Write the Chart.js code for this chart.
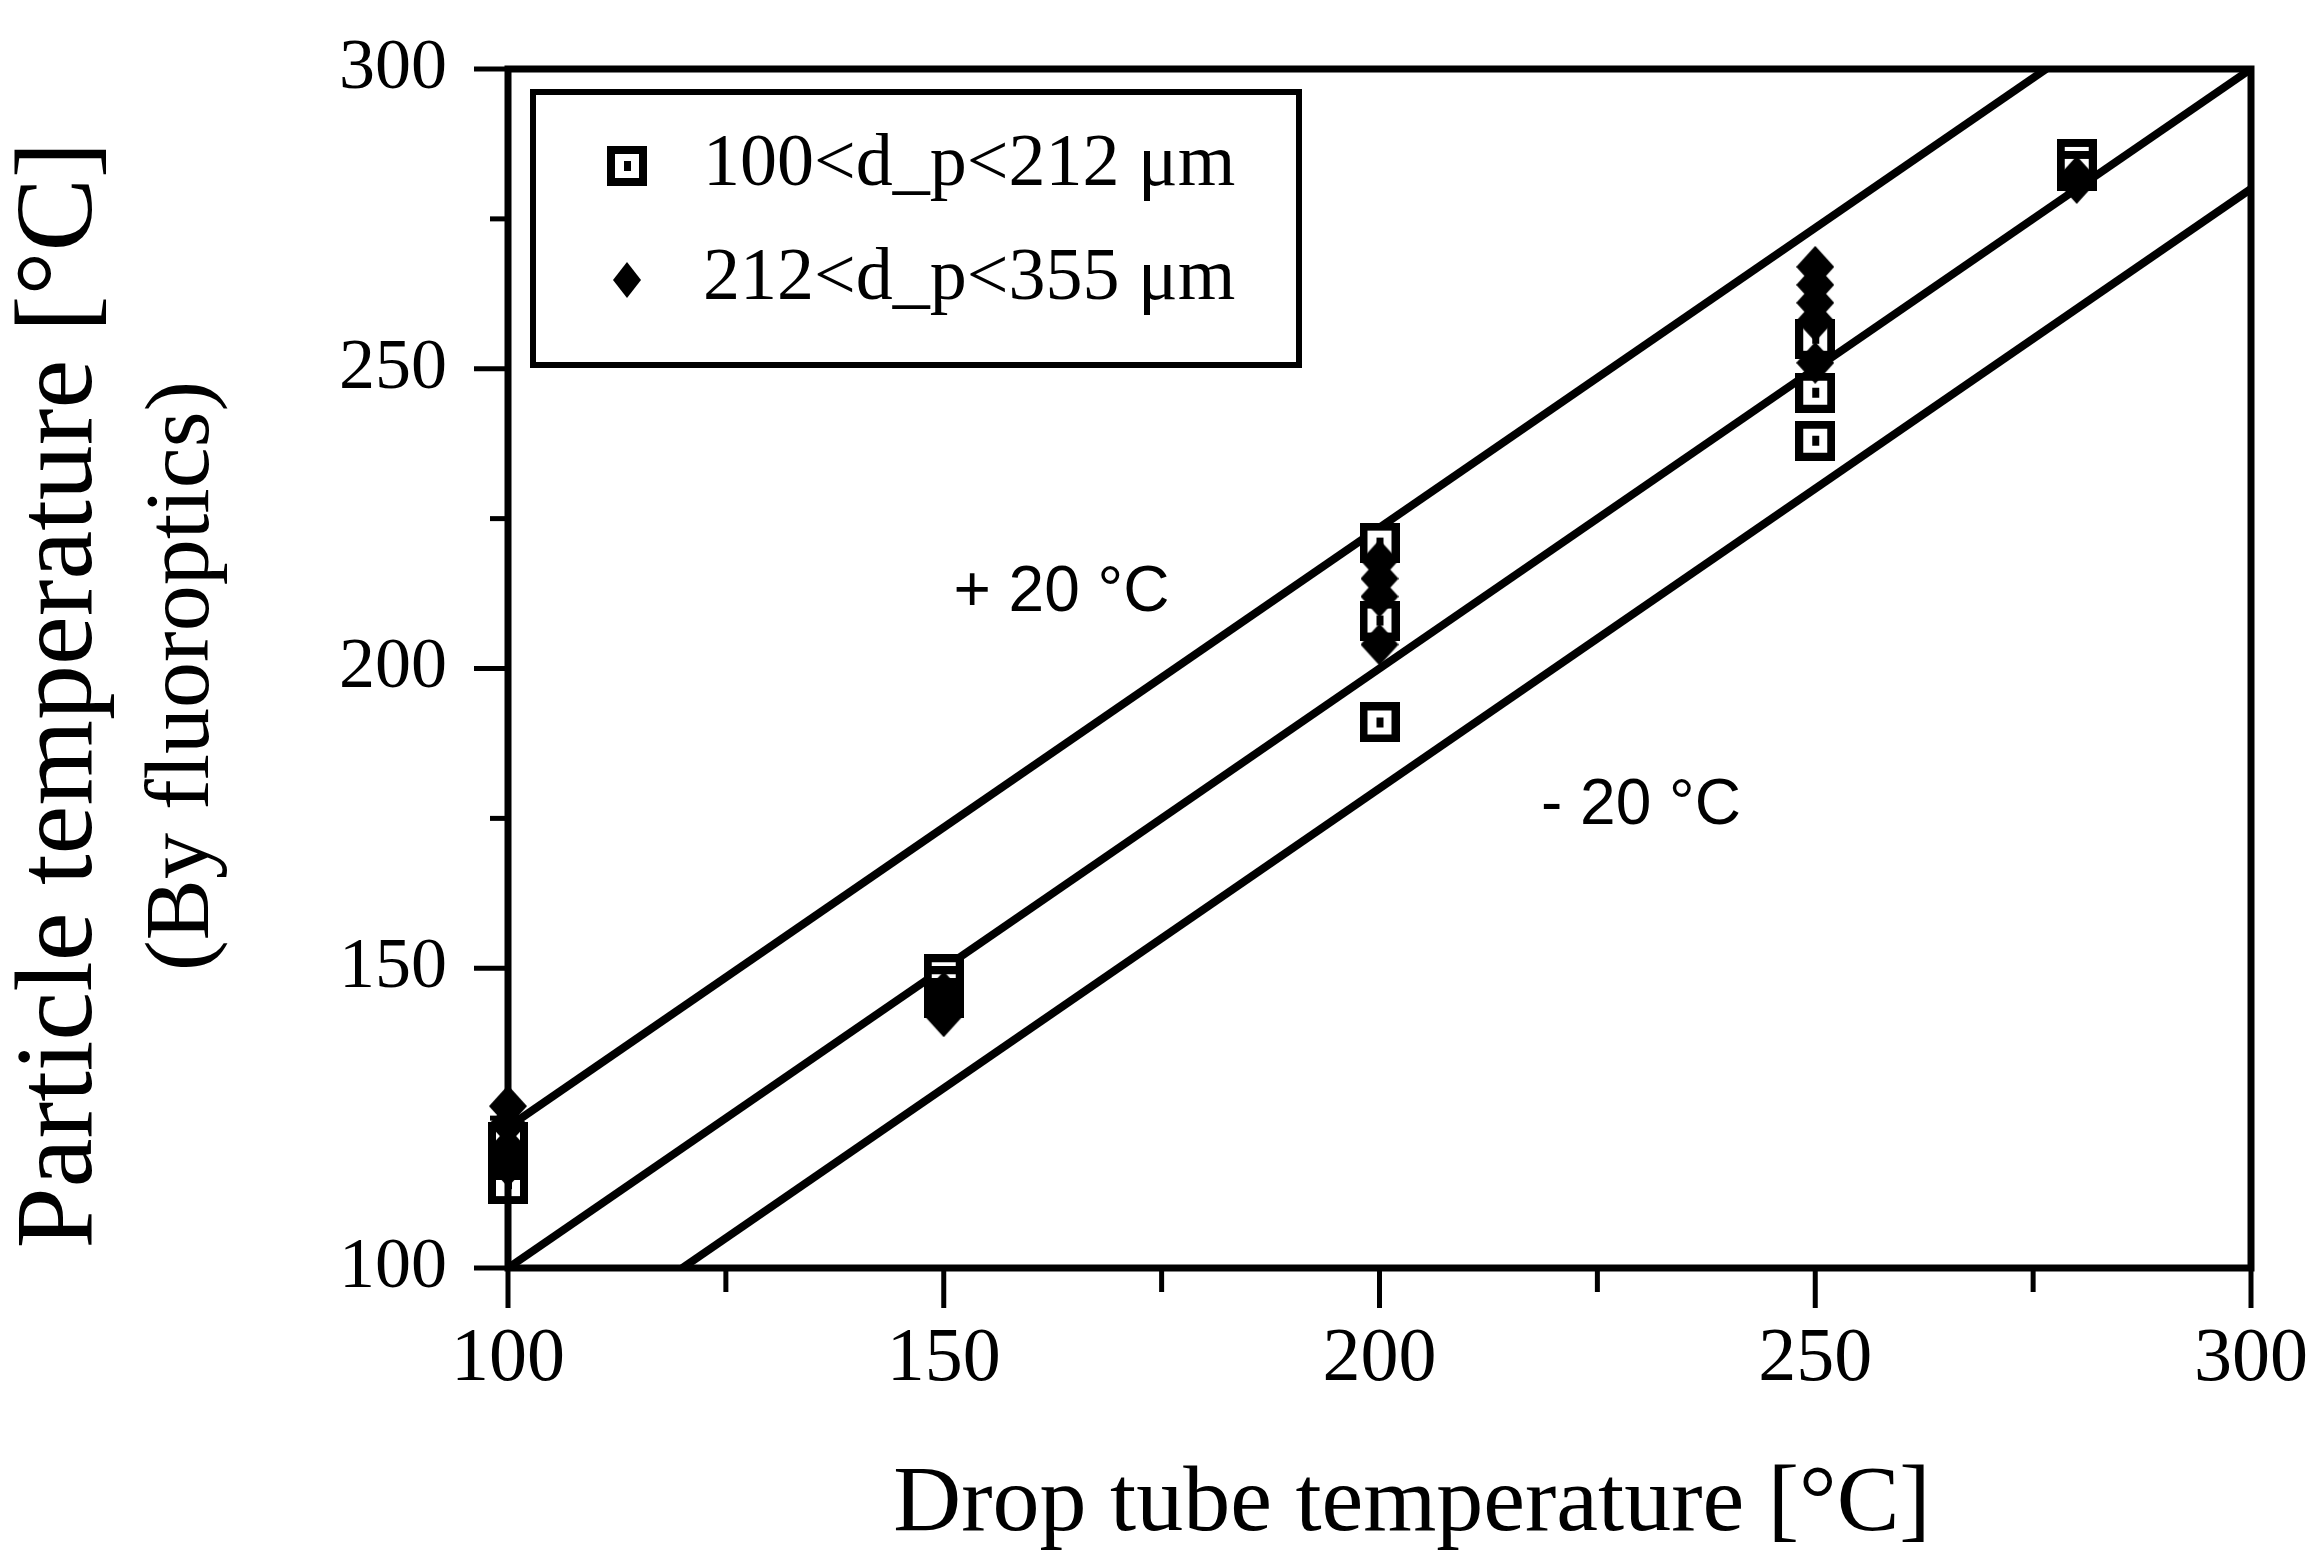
<!DOCTYPE html>
<html>
<head>
<meta charset="utf-8">
<script src="https://cdn.jsdelivr.net/npm/chart.js@4.4.0/dist/chart.umd.min.js"></script>
<style>
  html, body { margin: 0; padding: 0; background: #fff; }
  #wrap { width: 2319px; height: 1554px; }
</style>
</head>
<body>
<div id="wrap"><canvas id="myChart" width="2319" height="1554"></canvas></div>
<script>
// Measured points, 100<d_p<212 um (open squares)
const squareX = [100, 100, 100, 150, 150, 150, 200, 200, 200, 250, 250, 250, 280, 280];
const squareY = [114, 118, 121, 149, 147, 145, 221, 208, 191, 255, 246, 238, 285, 283];

// Measured points, 212<d_p<355 um (filled diamonds)
const diamondX = [100, 100, 100, 100, 150, 150, 150, 200, 200, 200, 200, 250, 250, 250, 250, 250, 280, 280];
const diamondY = [127, 124, 120, 117, 146, 144, 142, 218, 215, 212, 204, 267, 264, 261, 258, 251, 282, 281];

// Reference lines (end points as drawn in the figure)
const upperLineX = [100, 276.5];
const upperLineY = [123.5, 300];
const middleLineX = [100, 300];
const middleLineY = [100, 300];
const lowerLineX = [120, 300];
const lowerLineY = [100, 280];

// Ticks (same on both axes)
const majorTicks = [100, 150, 200, 250, 300];
const minorTicks = [125, 175, 225, 275];

// Labels
const seriesLabels = ['100<d_p<212 \u03bcm', '212<d_p<355 \u03bcm'];
const xTitle = 'Drop tube temperature [\u00b0C]';
const yTitle = ['Particle temperature [\u00b0C]', '(By fluoroptics)'];
const noteText = ['+ 20 \u00b0C', '- 20 \u00b0C'];
const noteX = [163.5, 230];
const noteY = [212.5, 177];

function toPoints(xs, ys) {
    return xs.map(function (x, i) { return { x: x, y: ys[i] }; });
}

// Marker images
function makeSquare() {
    const c = document.createElement('canvas');
    c.width = 40; c.height = 40;
    const g = c.getContext('2d');
    g.fillStyle = '#000';
    g.fillRect(0, 0, 40, 40);
    g.fillStyle = '#fff';
    g.fillRect(8, 8, 24, 24);
    g.fillStyle = '#000';
    g.fillRect(17, 15, 7, 10);
    return c;
}
function makeDiamond(w, h) {
    const c = document.createElement('canvas');
    c.width = w; c.height = h;
    const g = c.getContext('2d');
    g.fillStyle = '#000';
    g.beginPath();
    g.moveTo(w / 2, 0); g.lineTo(w, h / 2); g.lineTo(w / 2, h); g.lineTo(0, h / 2);
    g.closePath();
    g.fill();
    return c;
}
const squareImg = makeSquare();
const diamondImg = makeDiamond(38, 42);
const legendDiamondImg = makeDiamond(28, 36);

// Frame, tick marks, axis titles, legend box and notes
const decorations = {
    id: 'decorations',
    afterDatasetsDraw(chart) {
        const ctx = chart.ctx;
        const area = chart.chartArea;
        const xs = chart.scales.x;
        const ys = chart.scales.y;
        ctx.save();
        ctx.strokeStyle = '#000';
        ctx.fillStyle = '#000';

        // tick marks
        ctx.lineWidth = 5;
        majorTicks.concat(minorTicks).forEach(function (v) {
            const major = majorTicks.includes(v);
            const lenX = major ? 40 : 24;
            const lenY = major ? 34 : 18;
            const px = xs.getPixelForValue(v);
            ctx.beginPath();
            ctx.moveTo(px, area.bottom);
            ctx.lineTo(px, area.bottom + lenX);
            ctx.stroke();
            const py = ys.getPixelForValue(v);
            ctx.beginPath();
            ctx.moveTo(area.left, py);
            ctx.lineTo(area.left - lenY, py);
            ctx.stroke();
        });

        // plot frame
        ctx.lineWidth = 7;
        ctx.strokeRect(area.left, area.top, area.right - area.left, area.bottom - area.top);

        // x axis title
        ctx.textAlign = 'center';
        ctx.textBaseline = 'alphabetic';
        ctx.font = '94px "Liberation Serif"';
        ctx.fillText(xTitle, 1412, 1530);

        // y axis title, two lines of different size
        ctx.textBaseline = 'middle';
        ctx.save();
        ctx.translate(62, 695);
        ctx.rotate(-Math.PI / 2);
        ctx.font = '110px "Liberation Serif"';
        ctx.fillText(yTitle[0], 0, 0);
        ctx.restore();
        ctx.save();
        ctx.translate(184, 676);
        ctx.rotate(-Math.PI / 2);
        ctx.font = '92px "Liberation Serif"';
        ctx.fillText(yTitle[1], 0, 0);
        ctx.restore();

        // legend box
        ctx.lineWidth = 6;
        ctx.fillStyle = '#fff';
        ctx.fillRect(533, 92, 766, 273);
        ctx.strokeRect(533, 92, 766, 273);
        ctx.fillStyle = '#000';
        ctx.drawImage(squareImg, 607, 146);
        ctx.drawImage(legendDiamondImg, 613, 262);
        ctx.font = '74px "Liberation Serif"';
        ctx.textAlign = 'left';
        ctx.fillText(seriesLabels[0], 703, 166);
        ctx.fillText(seriesLabels[1], 703, 280);

        // notes
        ctx.font = '64px "Liberation Sans"';
        ctx.textAlign = 'center';
        noteText.forEach(function (t, i) {
            ctx.fillText(t, xs.getPixelForValue(noteX[i]), ys.getPixelForValue(noteY[i]));
        });
        ctx.restore();
    }
};

function setTicks(scale) {
    scale.ticks = majorTicks.concat(minorTicks)
        .sort(function (a, b) { return a - b; })
        .map(function (v) { return { value: v }; });
}
function tickText(value) {
    return majorTicks.includes(value) ? String(value) : '';
}
function noOverhang(scale) {
    scale.paddingTop = 0;
    scale.paddingBottom = 0;
    scale.paddingLeft = 0;
    scale.paddingRight = 0;
}

document.addEventListener('DOMContentLoaded', function () {
    const ctx = document.getElementById('myChart').getContext('2d');
    const lineStyle = {
        type: 'line',
        showLine: true,
        borderColor: '#000',
        borderWidth: 8,
        pointRadius: 0,
        fill: false,
        order: 2
    };
    new Chart(ctx, {
        type: 'scatter',
        data: {
            datasets: [
                {
                    label: seriesLabels[0],
                    data: toPoints(squareX, squareY),
                    pointStyle: squareImg,
                    pointRadius: 20,
                    clip: false,
                    order: 1
                },
                {
                    label: seriesLabels[1],
                    data: toPoints(diamondX, diamondY),
                    pointStyle: diamondImg,
                    pointRadius: 20,
                    clip: false,
                    order: 0
                },
                Object.assign({ label: '+20', data: toPoints(upperLineX, upperLineY) }, lineStyle),
                Object.assign({ label: '0', data: toPoints(middleLineX, middleLineY) }, lineStyle),
                Object.assign({ label: '-20', data: toPoints(lowerLineX, lowerLineY) }, lineStyle)
            ]
        },
        options: {
            responsive: false,
            animation: false,
            layout: { padding: { top: 69, right: 68, left: 0, bottom: 0 } },
            plugins: {
                legend: { display: false },
                tooltip: { enabled: false }
            },
            scales: {
                x: {
                    type: 'linear',
                    min: 100,
                    max: 300,
                    afterBuildTicks: setTicks,
                    afterFit: function (scale) { scale.height = 286; noOverhang(scale); },
                    grid: { display: false, drawTicks: false },
                    border: { display: false },
                    ticks: {
                        callback: tickText,
                        autoSkip: false,
                        maxRotation: 0,
                        padding: 46,
                        color: '#000',
                        font: { family: 'Liberation Serif', size: 76 }
                    },
                    title: { display: false }
                },
                y: {
                    type: 'linear',
                    min: 100,
                    max: 300,
                    afterBuildTicks: setTicks,
                    afterFit: function (scale) { scale.width = 508; noOverhang(scale); },
                    grid: { display: false, drawTicks: false },
                    border: { display: false },
                    ticks: {
                        callback: tickText,
                        autoSkip: false,
                        padding: 61,
                        color: '#000',
                        font: { family: 'Liberation Serif', size: 72 }
                    },
                    title: { display: false }
                }
            }
        },
        plugins: [decorations]
    });
});
</script>
</body>
</html>
